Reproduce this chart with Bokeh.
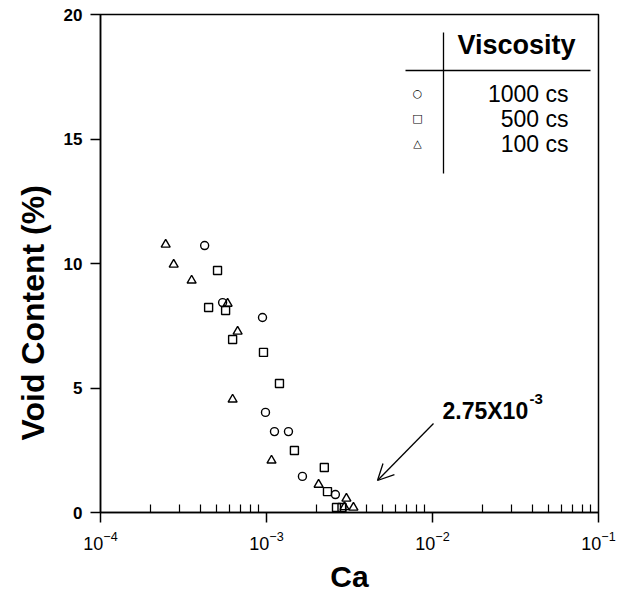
from bokeh.plotting import figure
from bokeh.models import Label, Arrow, OpenHead, FixedTicker, LogTickFormatter, Title
from bokeh.embed import file_html
from bokeh.resources import INLINE

# ---- data ----
ca_1000 = [4.24e-4, 5.44e-4, 9.46e-4, 9.86e-4, 1.117e-3, 1.356e-3, 1.646e-3, 2.60e-3]
void_1000 = [10.72, 8.43, 7.83, 4.02, 3.25, 3.25, 1.45, 0.72]

ca_500 = [5.07e-4, 4.48e-4, 5.67e-4, 6.25e-4, 9.59e-4, 1.197e-3, 1.473e-3, 2.23e-3, 2.33e-3, 2.64e-3, 2.85e-3]
void_500 = [9.72, 8.23, 8.11, 6.95, 6.43, 5.18, 2.49, 1.81, 0.84, 0.20, 0.20]

ca_100 = [2.47e-4, 2.76e-4, 3.54e-4, 5.83e-4, 6.70e-4, 6.25e-4, 1.072e-3, 2.06e-3, 3.03e-3, 2.95e-3, 3.34e-3]
void_100 = [10.76, 9.96, 9.32, 8.39, 7.27, 4.54, 2.09, 1.12, 0.56, 0.22, 0.20]

x_major = [1e-4, 1e-3, 1e-2, 1e-1]
y_major = [0, 5, 10, 15, 20]
x_title = "Ca"
y_title = "Void Content (%)"
legend_title = "Viscosity"
legend_names = ["1000 cs", "500 cs", "100 cs"]
note_main = "2.75X10"
note_exp = "-3"

FONT = "Liberation Sans"

p = figure(width=622, height=599, x_axis_type="log",
           x_range=(1e-4, 1e-1), y_range=(0, 20),
           output_backend="svg", toolbar_location=None,
           min_border_left=100, min_border_right=24,
           min_border_top=14, min_border_bottom=87)
p.grid.visible = False
p.outline_line_color = "black"
p.outline_line_width = 1.5
p.background_fill_color = "white"
p.border_fill_color = "white"

minor = [m * d for d in [1e-4, 1e-3, 1e-2] for m in range(2, 10)]
p.xaxis.ticker = FixedTicker(ticks=x_major, minor_ticks=minor)
p.xaxis.formatter = LogTickFormatter()
p.yaxis.ticker = FixedTicker(ticks=y_major)

for ax in (p.xaxis, p.yaxis):
    ax.axis_line_width = 1.5
    ax.major_tick_line_width = 1.5
    ax.minor_tick_line_width = 1.2
    ax.major_tick_in = 0
    ax.major_tick_out = 10
    ax.major_label_text_font = FONT
    ax.major_label_text_color = "black"
    ax.axis_label_text_font = FONT
    ax.axis_label_text_font_style = "bold"
    ax.axis_label_text_color = "black"

p.xaxis.minor_tick_in = 8
p.xaxis.minor_tick_out = 0
p.yaxis.minor_tick_line_color = None
p.xaxis.major_label_text_font_size = "18px"
p.xaxis.major_label_text_font_style = "normal"
p.yaxis.major_label_text_font_size = "17px"
p.yaxis.major_label_text_font_style = "bold"
p.xaxis.major_label_standoff = 8
p.yaxis.major_label_standoff = 8
p.xaxis.axis_label = x_title
p.xaxis.axis_label_text_font_size = "30px"
p.xaxis.axis_label_standoff = 7

# y title: a left-side title, anchored from the bottom so it sits below the frame centre
p.add_layout(Title(text=y_title, align="left", offset=72, standoff=20,
                   text_font=FONT, text_font_style="bold",
                   text_font_size="32px", text_color="black"), "left")

p.scatter(ca_1000, void_1000, marker="circle", size=8, fill_alpha=0,
          line_color="black", line_width=1.4)
p.scatter(ca_500, void_500, marker="square", size=8, fill_alpha=0,
          line_color="black", line_width=1.4)
p.scatter(ca_100, void_100, marker="triangle", size=9, fill_alpha=0,
          line_color="black", line_width=1.4)

# ---- table-like legend (screen units, relative to plot frame) ----
def seg(x0, y0, x1, y1, w=1.3):
    p.add_layout(Arrow(x_start=x0, y_start=y0, x_end=x1, y_end=y1,
                       start_units="screen", end_units="screen",
                       end=None, line_color="black", line_width=w))

seg(343, 339, 343, 480)
seg(305, 442, 490, 442)
p.add_layout(Label(x=416, y=468, x_units="screen", y_units="screen",
                   text=legend_title, text_font=FONT, text_font_style="bold",
                   text_font_size="27px", text_align="center",
                   text_baseline="middle", text_color="black"))
symbols = ["\u25cb", "\u25a1", "\u25b3"]
for i, (name, sym) in enumerate(zip(legend_names, symbols)):
    yy = 419 - 25 * i
    p.add_layout(Label(x=468, y=yy, x_units="screen", y_units="screen",
                       text=name, text_font=FONT, text_font_size="23px",
                       text_align="right", text_baseline="middle",
                       text_color="black"))
    p.add_layout(Label(x=317, y=yy, x_units="screen", y_units="screen",
                       text=sym, text_font="DejaVu Sans", text_font_size="11px",
                       text_align="center", text_baseline="middle",
                       text_color="black"))

# ---- annotation ----
p.add_layout(Arrow(x_start=333, y_start=89, x_end=277, y_end=32,
                   start_units="screen", end_units="screen",
                   line_color="black", line_width=1.3,
                   end=OpenHead(size=16, line_color="black", line_width=1.3)))
p.add_layout(Label(x=342, y=102, x_units="screen", y_units="screen",
                   text=note_main, text_font=FONT, text_font_style="bold",
                   text_font_size="23px", text_align="left",
                   text_baseline="alphabetic", text_color="black"))
p.add_layout(Label(x=429, y=114, x_units="screen", y_units="screen",
                   text=note_exp, text_font=FONT, text_font_style="bold",
                   text_font_size="15px", text_align="left",
                   text_baseline="alphabetic", text_color="black"))

open("out.html", "w").write(file_html(p, INLINE))
